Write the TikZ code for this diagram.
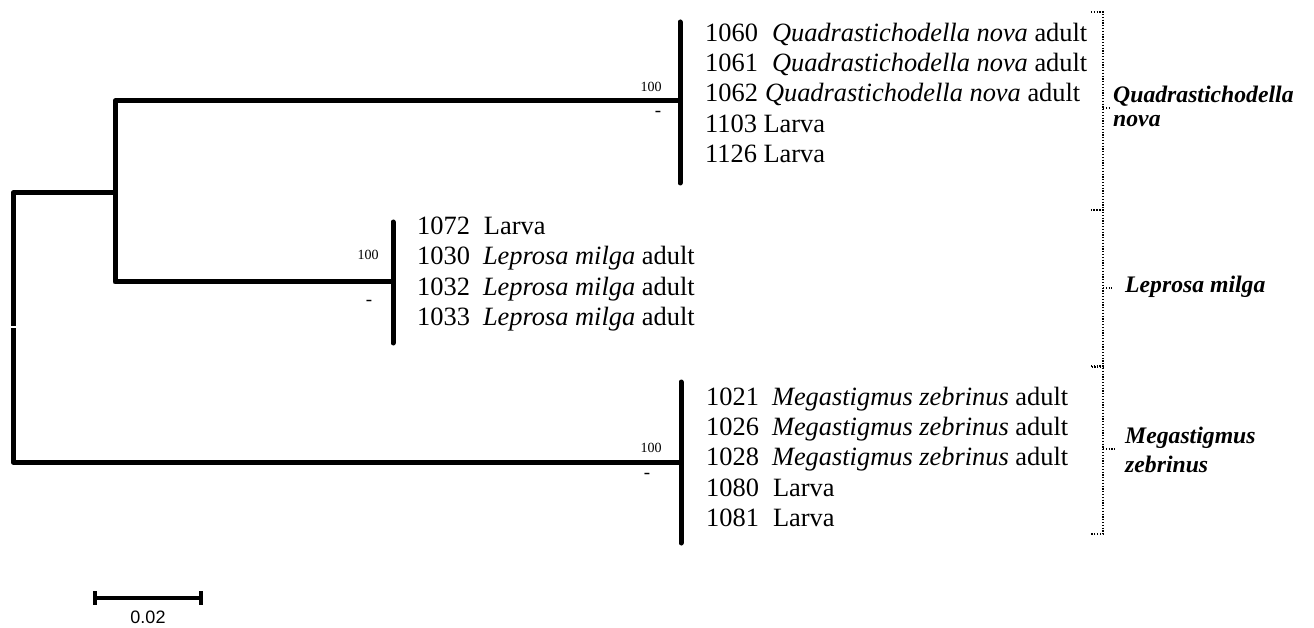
\documentclass[tikz,border=0pt]{standalone}
\usepackage{fontspec}
\setmainfont{Liberation Serif}
\newfontfamily\arialfont{Liberation Sans}
\begin{document}
\begin{tikzpicture}[x=1pt,y=-1pt,
  branch/.style={line width=5pt, line join=round},
  tipbar/.style={line width=5pt, line cap=round},
  leaf/.style={anchor=base west, inner sep=0pt, font=\fontsize{26.4}{30}\selectfont},
  support/.style={inner sep=0pt, font=\fontsize{14}{14}\selectfont},
  dashlab/.style={inner sep=0pt, font=\fontsize{19}{19}\selectfont},
  bracket/.style={line width=1.3pt, dash pattern=on 1.2pt off 1.6pt},
  clade/.style={anchor=base west, inner sep=0pt, font=\fontsize{23.7}{24}\selectfont\bfseries\itshape},
  scalebar/.style={line width=3.5pt}]
\useasboundingbox (0,0) rectangle (1314,628);

% tree nodes
\coordinate (rootA) at (13,326);
\coordinate (rootB) at (13,328);
\coordinate (inner) at (115,193);
\coordinate (innerB) at (115,282);
\coordinate (q) at (680,101);
\coordinate (l) at (393,282);
\coordinate (m) at (681,462);
\coordinate (qt) at (680,22);  \coordinate (qb) at (680,183);
\coordinate (lt) at (393,222); \coordinate (lb) at (393,343);
\coordinate (mt) at (681,382); \coordinate (mb) at (681,543);

\draw[branch] (q) -| (innerB) -- (l);
\draw[branch] (inner) -| (rootA);
\draw[branch] (rootB) |- (m);
\draw[tipbar] (qt) -- (qb);
\draw[tipbar] (lt) -- (lb);
\draw[tipbar] (mt) -- (mb);

% support values
\node[support] (sq1) at (651,87) {100};
\node[dashlab] (sq2) at (658,114) {-};
\node[support] (sl1) at (368,255) {100};
\node[dashlab] (sl2) at (369,303) {-};
\node[support] (sm1) at (651,448) {100};
\node[dashlab] (sm2) at (647,476) {-};

% leaves: Quadrastichodella
\node[leaf] (q1) at (705,42) {1060\hspace{14pt}\textit{Quadrastichodella nova} adult};
\node[leaf] (q2) at (705,72) {1061\hspace{14pt}\textit{Quadrastichodella nova} adult};
\node[leaf] (q3) at (705,102) {1062\hspace{7pt}\textit{Quadrastichodella nova} adult};
\node[leaf] (q4) at (705,133) {1103 Larva};
\node[leaf] (q5) at (705,163) {1126 Larva};

% leaves: Leprosa
\node[leaf] (l1) at (417,235) {1072\hspace{14pt}Larva};
\node[leaf] (l2) at (417,265) {1030\hspace{13pt}\textit{Leprosa milga} adult};
\node[leaf] (l3) at (417,295) {1032\hspace{13pt}\textit{Leprosa milga} adult};
\node[leaf] (l4) at (417,325) {1033\hspace{13pt}\textit{Leprosa milga} adult};

% leaves: Megastigmus
\node[leaf] (m1) at (706,405) {1021\hspace{13pt}\textit{Megastigmus zebrinus} adult};
\node[leaf] (m2) at (706,435) {1026\hspace{13pt}\textit{Megastigmus zebrinus} adult};
\node[leaf] (m3) at (706,465) {1028\hspace{13pt}\textit{Megastigmus zebrinus} adult};
\node[leaf] (m4) at (706,496) {1080\hspace{14pt}Larva};
\node[leaf] (m5) at (706,526) {1081\hspace{14pt}Larva};

% brackets
\coordinate (b1t) at (1091,12);  \coordinate (b1b) at (1091,210);
\coordinate (b2t) at (1091,210); \coordinate (b2b) at (1091,367);
\coordinate (b3t) at (1091,366); \coordinate (b3b) at (1091,534);
\draw[bracket] (b1t) -- ++(12,0) -- ++(0,198) -- (b1b);
\draw[bracket] (1103,108) -- (1111,108);
\draw[bracket] (b2t) -- ++(12,0) -- ++(0,157) -- (b2b);
\draw[bracket] (1103,288) -- (1112,288);
\draw[bracket] (b3t) -- ++(12,0) -- ++(0,168) -- (b3b);
\draw[bracket] (1103,449) -- (1115,449);

\node[clade] (cq1) at (1113,103) {Quadrastichodella};
\node[clade] (cq2) at (1113,127) {nova};
\node[clade] (cl) at (1125,292) {Leprosa milga};
\node[clade] (cm1) at (1125,443) {Megastigmus};
\node[clade] (cm2) at (1125,472) {zebrinus};

% scale bar
\coordinate (s1) at (95,598); \coordinate (s2) at (201,598);
\draw[scalebar] (s1) -- (s2);
\draw[scalebar] (95,591) -- (95,605);
\draw[scalebar] (201,591) -- (201,605);
\node[inner sep=0pt, font=\arialfont\fontsize{18}{18}\selectfont] (slabel) at (148,617) {0.02};
\end{tikzpicture}
\end{document}
